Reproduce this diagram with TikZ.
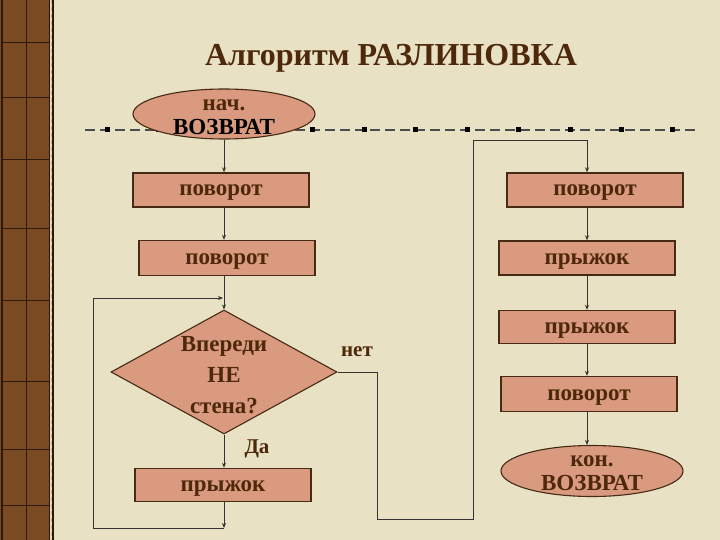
\documentclass[tikz,border=0pt]{standalone}
\usepackage{fontspec}
\setmainfont{Liberation Serif}
\usepackage{tikz}
\usetikzlibrary{shapes.geometric,arrows.meta}
\usepackage{xcolor}
\definecolor{paper}{RGB}{232,225,195}
\definecolor{strip}{RGB}{122,74,34}
\definecolor{stripline}{RGB}{45,25,12}
\definecolor{boxfill}{RGB}{217,154,128}
\definecolor{boxline}{RGB}{70,42,20}
\definecolor{ink}{RGB}{78,40,10}
\tikzset{
  block/.style={rectangle,draw=boxline,line width=1.4pt,fill=boxfill,minimum width=176pt,minimum height=34pt,inner sep=0pt,
    text height=12pt,text depth=0pt,text=ink,font=\fontsize{23}{26}\selectfont\bfseries},
  term/.style={ellipse,draw=boxline,line width=1.1pt,fill=boxfill,minimum width=182pt,minimum height=50pt,inner sep=0pt},
  cond/.style={diamond,draw=boxline,line width=1.1pt,fill=boxfill,minimum width=226pt,minimum height=124pt,inner sep=0pt},
  word/.style={text=ink,font=\fontsize{23}{26}\selectfont\bfseries,align=center,inner sep=0pt},
  conn/.style={draw=black!80,line width=0.8pt},
  arr/.style={conn,-{Stealth[length=5pt,width=4pt]}}
}
\begin{document}
\begin{tikzpicture}[x=1pt,y=-1pt]
  \useasboundingbox (0,0) rectangle (720,540);
  \fill[paper] (0,0) rectangle (720,540);
  % left strip
  \fill[strip] (0,0) rectangle (50,540);
  \draw[stripline,line width=1pt] (26,0) -- (26,540);
  \foreach \y in {43,98,160,229,300,381,449,505}
    \draw[stripline,line width=1pt] (2,\y) -- (50,\y);
  \draw[stripline,line width=1.5pt] (2,0) -- (2,540) (49.5,0) -- (49.5,540) (53,0) -- (53,540);
  \draw[paper!70!strip,line width=1.5pt,dash pattern=on 4pt off 3pt] (51.3,0) -- (51.3,540);

  \node[text=ink,font=\fontsize{32}{36}\selectfont\bfseries] (title) at (391,58) {Алгоритм РАЗЛИНОВКА};

  % guide line
  \draw[black!70,line width=1.5pt,dash pattern=on 10pt off 5pt] (85,130) -- (697,130);
  \foreach \i in {0,...,11}
    \fill[black] (107+51.45*\i-2.5,127.5) rectangle ++(5,5);

  % left column
  \node[term] (start) at (224,114) {};
  \node[word] (start-t) at ([yshift=-3pt]start) {нач.\\[-2pt]\textcolor{black}{ВОЗВРАТ}};
  \node[block] (t1) at (221,190) {поворот};
  \node[block,minimum height=35pt] (t2) at (227,258) {поворот};
  \node[cond] (ask) at (224,372) {};
  \node[word,font=\fontsize{23}{31}\selectfont\bfseries] (ask-t) at ([yshift=-3pt]ask) {Впереди\\НЕ\\стена?};
  \node[block,minimum height=33pt] (jump) at (223,485) {прыжок};

  % right column
  \node[block] (r1) at (595,190) {поворот};
  \node[block] (r2) at (587,258) {прыжок};
  \node[block,minimum height=33pt] (r3) at (587,327) {прыжок};
  \node[block,minimum height=35pt] (r4) at (589,394) {поворот};
  \node[term,minimum height=51pt] (stop) at (592,471) {};
  \node[word] (stop-t) at ([yshift=-2pt]stop) {кон.\\[-2pt]ВОЗВРАТ};

  \node[word,font=\fontsize{21}{24}\selectfont\bfseries] (yes) at (257,449) {Да};
  \node[word,font=\fontsize{21}{24}\selectfont\bfseries] (no) at (357,352) {нет};

  \coordinate (loopbot) at (93,528);
  \coordinate (looptop) at (93,298);
  \coordinate (nobot) at (377,519);
  \coordinate (notop) at (473,140);

  \draw[arr] (start.south) -- (start.south |- t1.north);
  \draw[arr] (t1.south -| start) -- (t2.north -| start);
  \draw[arr] (t2.south -| start) -- (ask.north);
  \draw[arr] (ask.south) -- (jump.north -| ask);
  \draw[arr] (jump.south -| ask) -- (loopbot -| ask);
  \draw[arr] (loopbot -| ask) -- (loopbot) -- (looptop) -- ([xshift=-1pt]looptop -| ask);
  \draw[arr] (ask.east) -| (nobot) -| (notop) -| (r1.north -| r2);
  \draw[arr] (r1.south -| r2) -- (r2.north);
  \draw[arr] (r2.south) -- (r3.north);
  \draw[arr] (r3.south) -- (r4.north -| r3);
  \draw[arr] (r4.south -| r3) -- (stop.north -| r3);
\end{tikzpicture}
\end{document}
